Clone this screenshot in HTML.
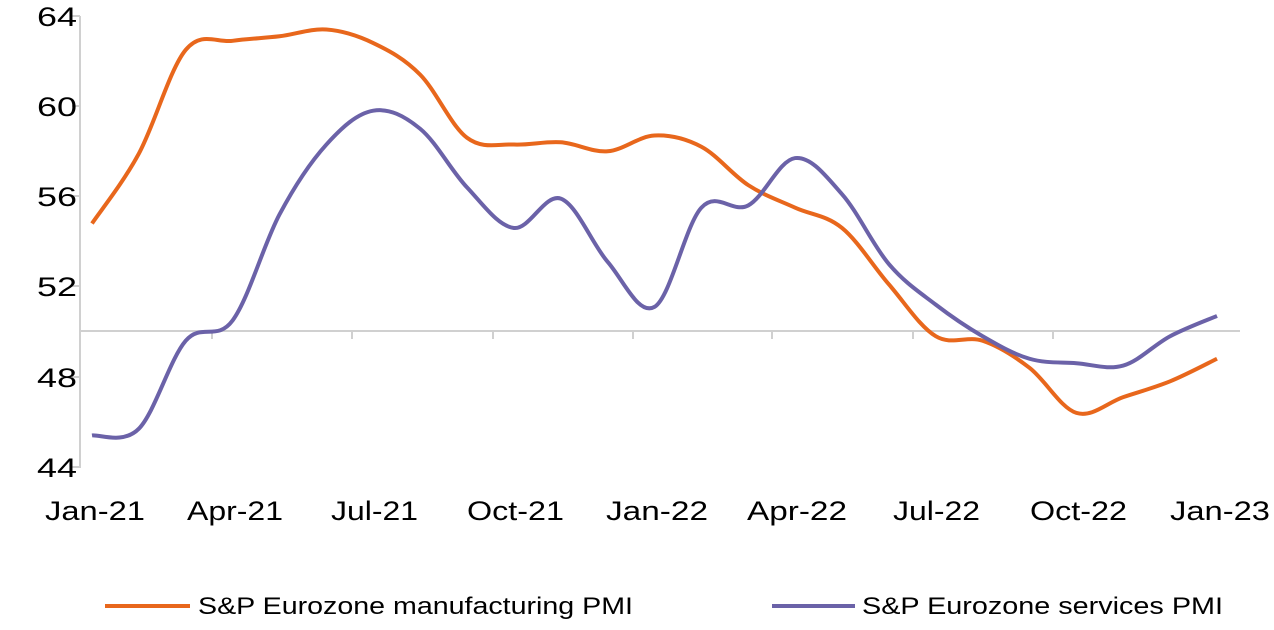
<!DOCTYPE html>
<html><head><meta charset="utf-8">
<style>
html,body{margin:0;padding:0;background:#fff;}
svg text{font-family:"Liberation Sans",Arial,sans-serif;fill:#000;}
</style></head>
<body>
<svg id="c" width="1274" height="625" viewBox="0 0 1274 625" xmlns="http://www.w3.org/2000/svg">
<line x1="80" y1="16" x2="80" y2="468" stroke="#d0d0d0" stroke-width="2"/>
<line x1="80" y1="331" x2="1240" y2="331" stroke="#d0d0d0" stroke-width="2"/>
<g stroke="#d0d0d0" stroke-width="2">
<line x1="72" y1="16" x2="80" y2="16"/><line x1="72" y1="106" x2="80" y2="106"/>
<line x1="72" y1="196" x2="80" y2="196"/><line x1="72" y1="286" x2="80" y2="286"/>
<line x1="72" y1="377" x2="80" y2="377"/><line x1="72" y1="467" x2="80" y2="467"/>
<line x1="212" y1="331" x2="212" y2="339"/><line x1="352" y1="331" x2="352" y2="339"/>
<line x1="493" y1="331" x2="493" y2="339"/><line x1="633" y1="331" x2="633" y2="339"/>
<line x1="772" y1="331" x2="772" y2="339"/><line x1="913" y1="331" x2="913" y2="339"/>
<line x1="1053" y1="331" x2="1053" y2="339"/>
</g>
<g font-size="27" lengthAdjust="spacingAndGlyphs">
<text x="37" y="26" textLength="40" lengthAdjust="spacingAndGlyphs">64</text>
<text x="37" y="116" textLength="40" lengthAdjust="spacingAndGlyphs">60</text>
<text x="37" y="206" textLength="40" lengthAdjust="spacingAndGlyphs">56</text>
<text x="37" y="296" textLength="40" lengthAdjust="spacingAndGlyphs">52</text>
<text x="37" y="387" textLength="40" lengthAdjust="spacingAndGlyphs">48</text>
<text x="37" y="477" textLength="40" lengthAdjust="spacingAndGlyphs">44</text>
</g>
<g font-size="27">
<text x="45" y="520" textLength="100" lengthAdjust="spacingAndGlyphs">Jan-21</text>
<text x="187" y="520" textLength="96" lengthAdjust="spacingAndGlyphs">Apr-21</text>
<text x="331" y="520" textLength="87" lengthAdjust="spacingAndGlyphs">Jul-21</text>
<text x="467" y="520" textLength="97" lengthAdjust="spacingAndGlyphs">Oct-21</text>
<text x="606" y="520" textLength="102" lengthAdjust="spacingAndGlyphs">Jan-22</text>
<text x="747" y="520" textLength="100" lengthAdjust="spacingAndGlyphs">Apr-22</text>
<text x="893" y="520" textLength="87" lengthAdjust="spacingAndGlyphs">Jul-22</text>
<text x="1030" y="520" textLength="97" lengthAdjust="spacingAndGlyphs">Oct-22</text>
<text x="1170" y="520" textLength="100" lengthAdjust="spacingAndGlyphs">Jan-23</text>
</g>
<path id="m" fill="none" stroke="#e8671c" stroke-width="4"/>
<path id="s" fill="none" stroke="#6b62a8" stroke-width="4"/>
<line x1="105" y1="606" x2="190" y2="606" stroke="#e8671c" stroke-width="4"/>
<text x="198" y="614" font-size="24" textLength="435" lengthAdjust="spacingAndGlyphs">S&amp;P Eurozone manufacturing PMI</text>
<line x1="772" y1="606" x2="855" y2="606" stroke="#6b62a8" stroke-width="4"/>
<text x="862" y="614" font-size="24" textLength="361" lengthAdjust="spacingAndGlyphs">S&amp;P Eurozone services PMI</text>
</svg>
<script>
var M=[54.8,57.9,62.5,62.9,63.1,63.4,62.8,61.4,58.6,58.3,58.4,58.0,58.7,58.2,56.5,55.5,54.6,52.1,49.8,49.6,48.4,46.4,47.1,47.8,48.8];
var S=[45.4,45.7,49.6,50.5,55.2,58.3,59.8,59.0,56.4,54.6,55.9,53.1,51.1,55.5,55.6,57.7,56.1,53.0,51.2,49.8,48.8,48.6,48.5,49.8,50.7];
function pts(a){return a.map(function(v,i){return [92+i*46.875,467-(v-44)*22.55];});}
function path(p){var d="M"+p[0][0]+","+p[0][1];
for(var i=0;i<p.length-1;i++){var p0=p[i-1]||p[i],p1=p[i],p2=p[i+1],p3=p[i+2]||p2;
var t=0.17;
d+=" C"+(p1[0]+(p2[0]-p0[0])*t)+","+(p1[1]+(p2[1]-p0[1])*t)+" "+(p2[0]-(p3[0]-p1[0])*t)+","+(p2[1]-(p3[1]-p1[1])*t)+" "+p2[0]+","+p2[1];}
return d;}
document.getElementById("m").setAttribute("d",path(pts(M)));
document.getElementById("s").setAttribute("d",path(pts(S)));
</script>
</body></html>
